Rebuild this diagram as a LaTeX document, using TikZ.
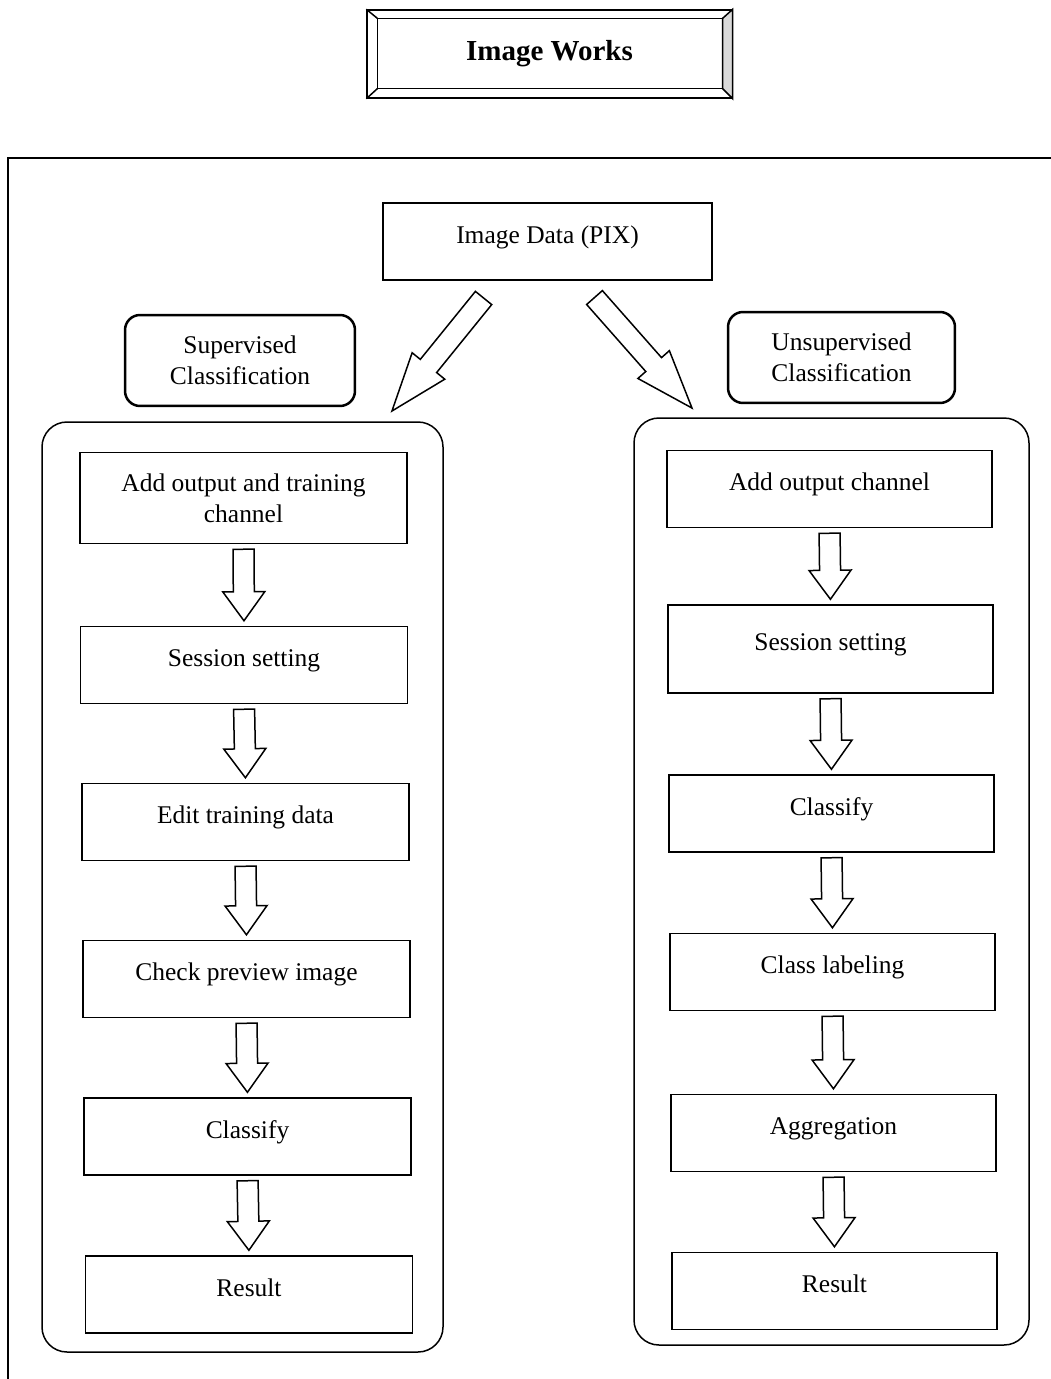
\documentclass[tikz,border=0pt]{standalone}
\usepackage{fontspec}
\setmainfont{Liberation Serif}
\usetikzlibrary{calc}
\tikzset{
  stepbox/.style={draw, line width=.3mm, minimum width=6.54cm, minimum height=1.54cm, align=center, text height=10pt, text depth=8pt, font=\fontsize{14.5}{17.5}\selectfont},
  labelbox/.style={draw, line width=.5mm, rounded corners=.3cm, minimum width=4.6cm, minimum height=1.82cm, align=center, font=\fontsize{14.5}{17.5}\selectfont},
  groupbox/.style={draw, line width=.3mm, rounded corners=.5cm},
  hollow/.style={draw, line width=.3mm, to path={
    ($($(\tikztostart)!0.1cm!(\tikztotarget)$)!0.21cm!90:(\tikztotarget)$)
    -- ($($(\tikztotarget)!#1!(\tikztostart)$)!0.21cm!-90:(\tikztostart)$)
    -- ($($(\tikztotarget)!#1!(\tikztostart)$)!0.42cm!-90:(\tikztostart)$)
    -- ($(\tikztotarget)!0.1cm!(\tikztostart)$)
    -- ($($(\tikztotarget)!#1!(\tikztostart)$)!0.42cm!90:(\tikztostart)$)
    -- ($($(\tikztotarget)!#1!(\tikztostart)$)!0.21cm!90:(\tikztostart)$)
    -- ($($(\tikztostart)!0.1cm!(\tikztotarget)$)!0.21cm!-90:(\tikztotarget)$)
    -- cycle}},
  hollow/.default=0.68cm
}

\begin{document}
\begin{tikzpicture}[x=0.02cm, y=-0.02cm]
\useasboundingbox (0,0) rectangle (1051,1379);
% title plate
\node[draw, line width=.3mm, minimum width=7.3cm, minimum height=1.76cm, font=\bfseries\fontsize{16.5}{20}\selectfont] (title) at (549.5,54) {Image Works};
\filldraw[fill=black!15, line width=.3mm] ([shift={(-10,9)}]title.north east) -- (title.north east) -- (title.south east) -- ([shift={(-10,-10)}]title.south east) -- cycle;
\draw[line width=.3mm] ([shift={(11,9)}]title.north west) rectangle ([shift={(-10,-10)}]title.south east);
\draw[line width=.3mm] (title.north west) -- ([shift={(11,9)}]title.north west);
\draw[line width=.3mm] (title.south west) -- ([shift={(11,-10)}]title.south west);
% frame
\draw[line width=.3mm] (1051,158) -- (8,158) -- (8,1379);
\node[stepbox, minimum width=6.58cm] (pix) at (547.5,241.5) {Image Data (PIX)};
\node[labelbox] (sup) at (240,360.5) {Supervised\\Classification};
\node[labelbox, minimum width=4.54cm] (unsup) at (841.5,357.5) {Unsupervised\\Classification};
\coordinate (la) at (486.7,294.1);
\coordinate (lb) at (388.8,414.9);
\coordinate (ra) at (591.2,293.8);
\coordinate (rb) at (695.3,411.8);
\draw[hollow=1.26cm] (la) to (lb);
\draw[hollow=1.26cm] (ra) to (rb);
% supervised
\draw[groupbox] (42,422) rectangle (443,1352);
\node[stepbox, text height={}, text depth={}, minimum height=1.82cm] (sup1) at (243.5,498) {Add output and training\\channel};
\node[stepbox] (sup2) at (244,665) {Session setting};
\node[stepbox] (sup3) at (245.5,822) {Edit training data};
\node[stepbox] (sup4) at (246.5,979) {Check preview image};
\node[stepbox] (sup5) at (247.5,1136.5) {Classify};
\node[stepbox] (sup6) at (249,1294.5) {Result};
\draw[hollow] (sup1.south) to (sup2.north);
\draw[hollow] (sup2.south) to (sup3.north);
\draw[hollow] (sup3.south) to (sup4.north);
\draw[hollow] (sup4.south) to (sup5.north);
\draw[hollow] (sup5.south) to (sup6.north);
% unsupervised
\draw[groupbox] (634,418) rectangle (1029,1345);
\node[stepbox, minimum width=6.5cm] (uns1) at (829.5,489) {Add output channel};
\node[stepbox, minimum width=6.5cm, minimum height=1.76cm] (uns2) at (830.5,649) {Session setting};
\node[stepbox, minimum width=6.5cm] (uns3) at (831.5,813.5) {Classify};
\node[stepbox, minimum width=6.5cm] (uns4) at (832.5,972) {Class labeling};
\node[stepbox, minimum width=6.5cm] (uns5) at (833.5,1133) {Aggregation};
\node[stepbox, minimum width=6.5cm] (uns6) at (834.5,1291) {Result};
\draw[hollow] (uns1.south) to (uns2.north);
\draw[hollow] (uns2.south) to (uns3.north);
\draw[hollow] (uns3.south) to (uns4.north);
\draw[hollow] (uns4.south) to (uns5.north);
\draw[hollow] (uns5.south) to (uns6.north);
\end{tikzpicture}
\end{document}
